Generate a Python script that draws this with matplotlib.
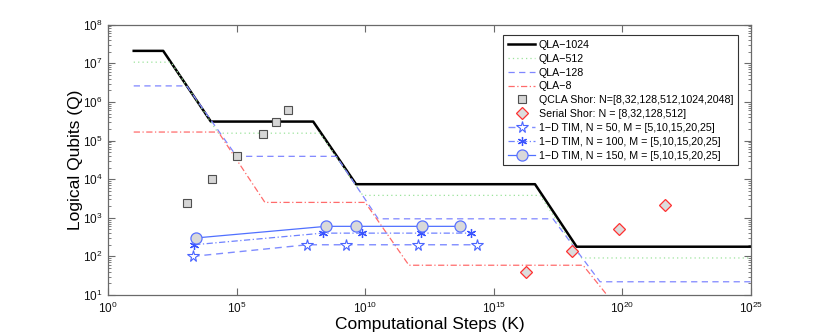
import matplotlib
matplotlib.use("Agg")
import matplotlib.pyplot as plt
from matplotlib.ticker import FixedLocator, LogFormatterSciNotation, LogLocator, NullLocator, NullFormatter

plt.rcParams['font.family'] = ['Liberation Sans', 'DejaVu Sans']
plt.rcParams['mathtext.fontset'] = 'custom'
plt.rcParams['mathtext.rm'] = 'Liberation Sans'
plt.rcParams['mathtext.it'] = 'Liberation Sans:italic'
plt.rcParams['mathtext.bf'] = 'Liberation Sans:bold'

# ---- data ----
qla1024_k = [1e1, 1.4e2, 1e4, 9.5e7, 4.4e9, 4e16, 1.66e18, 1e25]
qla1024_q = [2.1e7, 2.1e7, 3.1e5, 3.1e5, 7.4e3, 7.4e3, 178, 178]

qla512_k = [1e1, 2.8e2, 1.95e4, 1.74e8, 8.1e9, 6.3e16, 2.6e18, 1e25]
qla512_q = [1.07e7, 1.07e7, 1.55e5, 1.55e5, 3.8e3, 3.8e3, 91, 91]

qla128_k = [1e1, 1.15e3, 1e5, 7.6e8, 3.2e10, 2e17, 1.35e19, 1e25]
qla128_q = [2.6e6, 2.6e6, 3.9e4, 3.9e4, 940, 940, 22, 22]

qla8_k = [1e1, 1.95e4, 1.26e6, 1e10, 5e11, 2.95e18, 1e20]
qla8_q = [1.66e5, 1.66e5, 2.5e3, 2.5e3, 59, 59, 3.2]

qcla_k = [1.15e3, 1.12e4, 1e5, 1.05e6, 3.3e6, 1.02e7]
qcla_q = [2.4e3, 9.8e3, 3.9e4, 1.5e5, 3.1e5, 6.3e5]

serial_k = [1.74e16, 1.05e18, 7.4e19, 4.7e21]
serial_q = [40, 135, 525, 2.1e3]

tim50_k = [1.95e3, 5.6e7, 1.86e9, 1.1e12, 2.3e14]
tim50_q = [100, 200, 200, 200, 200]

tim100_k = [2.24e3, 2.2e8, 7.2e9, 1.45e12, 1.26e14]
tim100_q = [200, 400, 400, 400, 400]

tim150_k = [2.6e3, 3.0e8, 4.4e9, 1.55e12, 4.9e13]
tim150_q = [300, 600, 600, 600, 600]

x_ticks = [1e0, 1e5, 1e10, 1e15, 1e20, 1e25]
y_ticks = [1e1, 1e2, 1e3, 1e4, 1e5, 1e6, 1e7, 1e8]

M = '\u2212'
labels = ['QLA' + M + '1024', 'QLA' + M + '512', 'QLA' + M + '128', 'QLA' + M + '8',
          'QCLA Shor: N=[8,32,128,512,1024,2048]',
          'Serial Shor: N = [8,32,128,512]',
          '1' + M + 'D TIM, N = 50, M = [5,10,15,20,25]',
          '1' + M + 'D TIM, N = 100, M = [5,10,15,20,25]',
          '1' + M + 'D TIM, N = 150, M = [5,10,15,20,25]']

fig = plt.figure(figsize=(8.3, 3.34), dpi=100)
ax = fig.add_axes([108/830, 1-295/334, (751-108)/830, (295-24.7)/334])
ax.set_xscale('log')
ax.set_yscale('log')

blue = '#5070ff'
h = []
h += ax.plot(qla1024_k, qla1024_q, color='black', lw=1.8, ls='-')
h += ax.plot(qla512_k, qla512_q, color='#9be39b', lw=0.9, ls=(0, (1, 2.5)))
h += ax.plot(qla128_k, qla128_q, color='#7f86ff', lw=0.9, ls=(0, (5, 3.5)))
h += ax.plot(qla8_k, qla8_q, color='#ff6b6b', lw=0.9, ls=(0, (5, 2, 1, 2)))
h += ax.plot(qcla_k, qcla_q, ls='none', marker='s', ms=5.2, mfc='#d6d6d6', mec='#505050', mew=0.8)
h += ax.plot(serial_k, serial_q, ls='none', marker='D', ms=6.5, mfc='#dcdcdc', mec='#ff3030', mew=0.9)
h += ax.plot(tim50_k, tim50_q, color='#7f8cff', lw=1.0, ls=(0, (5, 3.5)), marker='*', ms=8.5,
             mfc='white', mec='#4a64ff', mew=0.8)
h += ax.plot(tim100_k, tim100_q, color='#6f82ff', lw=0.9, ls=(0, (5, 2, 1, 2)), marker=(6, 2, 0), ms=6.5,
             mec='#3a54ff', mew=0.9)
h += ax.plot(tim150_k, tim150_q, color=blue, lw=0.9, ls='-', marker='o', ms=8,
             mfc='#d9d9d9', mec='#5a72ff', mew=0.9)

ax.set_xlim(1e0, 1e25)
ax.set_ylim(1e1, 1e8)
ax.xaxis.set_major_locator(FixedLocator(x_ticks))
ax.xaxis.set_major_formatter(LogFormatterSciNotation())
ax.xaxis.set_minor_locator(NullLocator())
ax.yaxis.set_major_locator(FixedLocator(y_ticks))
ax.yaxis.set_major_formatter(LogFormatterSciNotation())
ax.yaxis.set_minor_locator(LogLocator(base=10, subs=[2, 3, 4, 5, 6, 7, 8, 9], numticks=50))
ax.yaxis.set_minor_formatter(NullFormatter())

for s in ax.spines.values():
    s.set_color('#6a6a6a')
    s.set_linewidth(0.9)
ax.tick_params(which='both', direction='in', top=True, right=True, color='#6a6a6a',
               labelsize=8.5, labelcolor='#111111')
ax.tick_params(which='major', length=5, width=0.8, pad=4)
ax.tick_params(which='minor', length=2.5, width=0.6)

ax.set_xlabel('Computational Steps (K)', fontsize=12.5, labelpad=1)
ax.set_ylabel('Logical Qubits (Q)', fontsize=12.5, labelpad=0)

leg = ax.legend(h, labels, loc='upper right', bbox_to_anchor=(738/830, 1-35/334),
                bbox_transform=fig.transFigure, borderaxespad=0, fontsize=7.7,
                fancybox=False, framealpha=1, edgecolor='#333333', handlelength=2.5,
                handletextpad=0.35, labelspacing=0.36, borderpad=0.45, numpoints=1)
leg.get_frame().set_linewidth(0.8)

fig.savefig('out.png', dpi=100)
